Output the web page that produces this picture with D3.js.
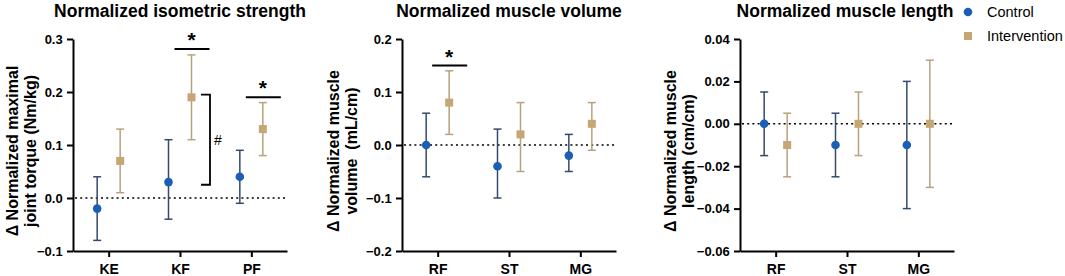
<!DOCTYPE html>
<html>
<head>
<meta charset="utf-8">
<script src="https://cdn.jsdelivr.net/npm/d3@7"></script>
<style>
  body { margin: 0; background: #fff; }
  svg { font-family: "Liberation Sans", Arial, sans-serif; }
  .axis path, .axis line { stroke: #000; stroke-width: 2; }
  .axis text { font-size: 13px; font-weight: bold; fill: #000; }
  .axis--x text { font-size: 14px; }
</style>
</head>
<body>
<svg width="1065" height="276"></svg>
<script>

  // DATA

  var titles = ["Normalized isometric strength", "Normalized muscle volume", "Normalized muscle length"];
  var yTitles = [
    ["Δ Normalized maximal", "joint torque (Nm/kg)"],
    ["Δ Normalized muscle", "volume  (mL/cm)"],
    ["Δ Normalized muscle", "length (cm/cm)"]
  ];
  var categories = [["KE", "KF", "PF"], ["RF", "ST", "MG"], ["RF", "ST", "MG"]];
  var yDomains = [[-0.1, 0.3], [-0.2, 0.2], [-0.06, 0.04]];
  var yTicks = [
    [-0.1, 0.0, 0.1, 0.2, 0.3],
    [-0.2, -0.1, 0.0, 0.1, 0.2],
    [-0.06, -0.04, -0.02, 0.00, 0.02, 0.04]
  ];
  var tickFormats = [".1f", ".1f", ".2f"];

  // mean, lower, upper
  var controlMean = [[-0.02, 0.03, 0.04], [0.00, -0.04, -0.02], [0.000, -0.010, -0.010]];
  var controlLow  = [[-0.08, -0.04, -0.01], [-0.06, -0.10, -0.05], [-0.015, -0.025, -0.040]];
  var controlHigh = [[0.04, 0.11, 0.09], [0.06, 0.03, 0.02], [0.015, 0.005, 0.020]];

  var interMean = [[0.07, 0.19, 0.13], [0.08, 0.02, 0.04], [-0.010, 0.000, 0.000]];
  var interLow  = [[0.01, 0.11, 0.08], [0.02, -0.05, -0.01], [-0.025, -0.015, -0.030]];
  var interHigh = [[0.13, 0.27, 0.18], [0.14, 0.08, 0.08], [0.005, 0.015, 0.030]];

  // significance bars: panel, category, value of the line
  var starBars = [
    { panel: 0, cat: "KF", value: 0.281 },
    { panel: 0, cat: "PF", value: 0.19 },
    { panel: 1, cat: "RF", value: 0.15 }
  ];
  // "#" bracket in panel 0 between control and intervention at KF
  var hashBracket = { panel: 0, cat: "KF", from: 0.025, to: 0.195 };

  var seriesNames = ["Control", "Intervention"];

  // SETUP

  var svg = d3.select("svg");
  var blue = "#1a5fb4", navy = "#34496e", tan = "#c6a674", tanBar = "#b7a27c";
  var panelLeft = [73, 402, 740],
    yTitleX = [18, 339, 676],
    plotWidth = 214,
    yTop = 39, yBottom = 251,
    offset = 11.5;

  titles.forEach(function (title, i) {

    var x = d3.scalePoint().domain(categories[i]).range([panelLeft[i], panelLeft[i] + plotWidth]).padding(0.5);
    var y = d3.scaleLinear().domain(yDomains[i]).range([yBottom, yTop]);

    var g = svg.append("g");

    g.append("text")
      .attr("x", panelLeft[i] + plotWidth / 2 - (i == 2 ? 2 : 0))
      .attr("y", 17)
      .attr("text-anchor", "middle")
      .attr("font-size", 17.5)
      .attr("font-weight", "bold")
      .text(title);

    // y title
    yTitles[i].forEach(function (line, k) {
      g.append("text")
        .attr("transform", "translate(" + (yTitleX[i] + k * 18) + ",151) rotate(-90)")
        .attr("text-anchor", "middle")
        .attr("font-size", 16)
        .attr("font-weight", "bold")
        .style("white-space", "pre")
        .text(line);
    });

    // zero line
    g.append("line")
      .attr("x1", panelLeft[i] + 2).attr("x2", panelLeft[i] + plotWidth - 2)
      .attr("y1", y(0)).attr("y2", y(0))
      .attr("stroke", "#000").attr("stroke-width", 1.6)
      .attr("stroke-dasharray", "2,3.2");

    g.append("g")
      .attr("class", "axis axis--x")
      .attr("transform", "translate(0," + yBottom + ")")
      .call(d3.axisBottom(x).tickSize(6).tickSizeOuter(0))
      .selectAll("text").attr("y", 13);

    g.append("g")
      .attr("class", "axis")
      .attr("transform", "translate(" + panelLeft[i] + ",0)")
      .call(d3.axisLeft(y).tickValues(yTicks[i]).tickFormat(d3.format(tickFormats[i])).tickSize(6).tickSizeOuter(0))
      .selectAll("text").attr("dx", "-0.1em");

    var series = [
      { mean: controlMean[i], low: controlLow[i], high: controlHigh[i], dx: -offset, bar: navy, fill: blue, shape: "circle" },
      { mean: interMean[i], low: interLow[i], high: interHigh[i], dx: offset, bar: tanBar, fill: tan, shape: "square" }
    ];

    series.forEach(function (s) {
      var data = categories[i].map(function (c, j) {
        return { cat: c, mean: s.mean[j], low: s.low[j], high: s.high[j] };
      });
      var eg = g.append("g");
      eg.selectAll(".whisker").data(data).enter().append("line")
        .attr("x1", function (d) { return x(d.cat) + s.dx; })
        .attr("x2", function (d) { return x(d.cat) + s.dx; })
        .attr("y1", function (d) { return y(d.low); })
        .attr("y2", function (d) { return y(d.high); })
        .attr("stroke", s.bar).attr("stroke-width", 1.5);
      ["low", "high"].forEach(function (k) {
        eg.selectAll(".cap-" + k).data(data).enter().append("line")
          .attr("x1", function (d) { return x(d.cat) + s.dx - 4; })
          .attr("x2", function (d) { return x(d.cat) + s.dx + 4; })
          .attr("y1", function (d) { return y(d[k]); })
          .attr("y2", function (d) { return y(d[k]); })
          .attr("stroke", s.bar).attr("stroke-width", 1.5);
      });
      if (s.shape == "circle") {
        eg.selectAll("circle").data(data).enter().append("circle")
          .attr("cx", function (d) { return x(d.cat) + s.dx; })
          .attr("cy", function (d) { return y(d.mean); })
          .attr("r", 4.3)
          .attr("fill", s.fill);
      } else {
        eg.selectAll("rect").data(data).enter().append("rect")
          .attr("x", function (d) { return x(d.cat) + s.dx - 4; })
          .attr("y", function (d) { return y(d.mean) - 4; })
          .attr("width", 8).attr("height", 8)
          .attr("fill", s.fill);
      }
    });

    // significance stars
    starBars.filter(function (b) { return b.panel == i; }).forEach(function (b) {
      var cx = x(b.cat) + offset;
      g.append("line")
        .attr("x1", cx - 17).attr("x2", cx + 18)
        .attr("y1", y(b.value)).attr("y2", y(b.value))
        .attr("stroke", "#000").attr("stroke-width", 2);
      g.append("text")
        .attr("x", cx).attr("y", y(b.value) - 2)
        .attr("text-anchor", "middle")
        .attr("font-size", 21).attr("font-weight", "bold")
        .text("*");
    });

    if (hashBracket.panel == i) {
      var bx = x(hashBracket.cat) + 30;
      g.append("path")
        .attr("d", "M" + (bx - 9) + "," + y(hashBracket.to) + "H" + bx + "V" + y(hashBracket.from) + "H" + (bx - 9))
        .attr("fill", "none").attr("stroke", "#000").attr("stroke-width", 1.8);
      g.append("text")
        .attr("x", bx + 8).attr("y", y((hashBracket.from + hashBracket.to) / 2) + 5)
        .attr("text-anchor", "middle")
        .attr("font-size", 14)
        .text("#");
    }
  });

  // LEGEND

  var legend = svg.append("g").attr("transform", "translate(968,12)");
  legend.append("circle").attr("cx", 0).attr("cy", 0).attr("r", 4.3).attr("fill", blue);
  legend.append("rect").attr("x", -4).attr("y", 20).attr("width", 8).attr("height", 8).attr("fill", tan);
  legend.selectAll("text").data(seriesNames).enter().append("text")
    .attr("x", 19)
    .attr("y", function (d, k) { return k * 24 + 5; })
    .attr("font-size", 14.5)
    .text(function (d) { return d; });

</script>
</body>
</html>
